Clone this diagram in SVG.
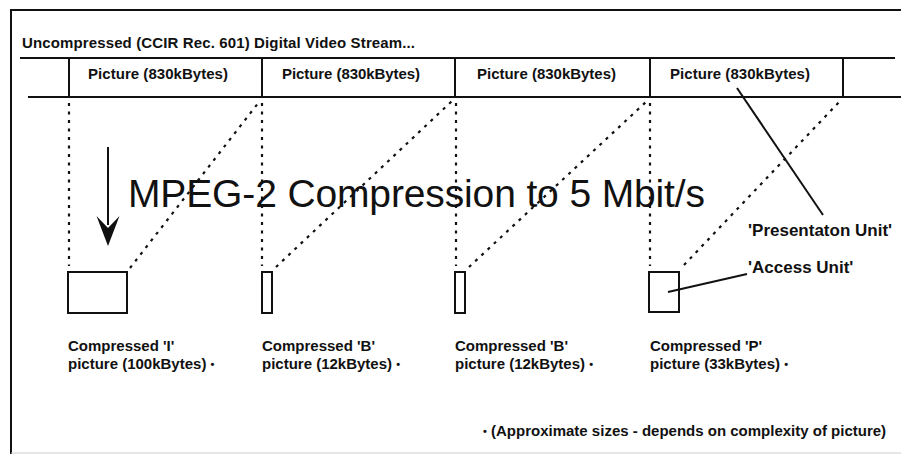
<svg xmlns="http://www.w3.org/2000/svg" width="901" height="455" viewBox="0 0 901 455">
<style>
.ln{stroke:#111;stroke-width:2;fill:none}
.dot{stroke:#111;stroke-width:2.2;fill:none;stroke-dasharray:3 5.5}
.t{font-family:"Liberation Sans",Arial,sans-serif;font-weight:bold;font-size:15px;fill:#111}
.ann{font-family:"Liberation Sans",Arial,sans-serif;font-weight:bold;font-size:17px;fill:#111}
.big{font-family:"Liberation Sans",Arial,sans-serif;font-size:39px;fill:#111}
.box{stroke:#111;stroke-width:2;fill:none}
</style>
<rect width="901" height="455" fill="#fff"/>
<g id="frame">
<line class="ln" x1="11" y1="10" x2="901" y2="10"/>
<line class="ln" x1="11" y1="9" x2="11" y2="454"/>
<line x1="11" y1="453" x2="901" y2="453" stroke="#ccc" stroke-width="1"/>
<text class="t" x="22" y="48" textLength="393">Uncompressed (CCIR Rec. 601) Digital Video Stream...</text>
</g>
<g id="stream">
<line class="ln" x1="20" y1="58" x2="895" y2="58"/>
<line class="ln" x1="28" y1="97" x2="901" y2="97"/>
<line class="ln" x1="843" y1="58" x2="843" y2="97"/>
</g>
<g id="picture1">
<line class="ln" x1="69" y1="58" x2="69" y2="97"/>
<text class="t" x="88" y="79" textLength="140">Picture (830kBytes)</text>
</g>
<g id="picture2">
<line class="ln" x1="262" y1="58" x2="262" y2="97"/>
<text class="t" x="282" y="79" textLength="138">Picture (830kBytes)</text>
</g>
<g id="picture3">
<line class="ln" x1="455" y1="58" x2="455" y2="97"/>
<text class="t" x="477" y="79" textLength="139">Picture (830kBytes)</text>
</g>
<g id="picture4">
<line class="ln" x1="650" y1="58" x2="650" y2="97"/>
<text class="t" x="670" y="79" textLength="140">Picture (830kBytes)</text>
</g>
<g id="title">
<text class="big" x="128" y="207" textLength="577">MPEG-2 Compression to 5 Mbit/s</text>
</g>
<g id="compressedI">
<rect class="box" x="68" y="272" width="59" height="41"/>
<text class="t" x="68" y="351">Compressed 'I'</text>
<text class="t" x="68" y="369">picture (100kBytes) <tspan font-size="11" dy="-1">•</tspan></text>
</g>
<g id="compressedB1">
<rect class="box" x="262" y="272" width="10" height="41"/>
<text class="t" x="262" y="351">Compressed 'B'</text>
<text class="t" x="262" y="369">picture (12kBytes) <tspan font-size="11" dy="-1">•</tspan></text>
</g>
<g id="compressedB2">
<rect class="box" x="455" y="272" width="10" height="41"/>
<text class="t" x="455" y="351">Compressed 'B'</text>
<text class="t" x="455" y="369">picture (12kBytes) <tspan font-size="11" dy="-1">•</tspan></text>
</g>
<g id="compressedP">
<rect class="box" x="649" y="272" width="30" height="40"/>
<text class="t" x="650" y="351">Compressed 'P'</text>
<text class="t" x="650" y="369">picture (33kBytes) <tspan font-size="11" dy="-1">•</tspan></text>
</g>
<g id="presentation-unit">
<text class="ann" x="748" y="236">'Presentaton Unit'</text>
</g>
<g id="access-unit">
<text class="ann" x="748" y="273">'Access Unit'</text>
</g>
<g id="footnote">
<text class="t" x="483" y="436"><tspan font-size="11" dy="-1">•</tspan><tspan dy="1"> (Approximate sizes - depends on complexity of picture)</tspan></text>
</g>
<g id="connectors">
<line class="dot" x1="69" y1="103" x2="69" y2="266"/>
<line class="dot" x1="262" y1="103" x2="262" y2="266"/>
<line class="dot" x1="456" y1="103" x2="456" y2="266"/>
<line class="dot" x1="650" y1="103" x2="650" y2="266"/>
<line class="dot" x1="130" y1="268" x2="259" y2="102"/>
<line class="dot" x1="276" y1="267" x2="452" y2="101"/>
<line class="dot" x1="469" y1="267" x2="647" y2="101"/>
<line class="dot" x1="684" y1="265" x2="841" y2="100"/>
<line class="ln" x1="737" y1="88" x2="823" y2="215"/>
<line class="ln" x1="668" y1="292" x2="747" y2="274"/>
<line x1="108" y1="147" x2="108" y2="225" stroke="#111" stroke-width="2"/>
<path d="M108,246 L96.5,216 L108,228 L119.5,216 Z" fill="#111"/>
</g>
</svg>
